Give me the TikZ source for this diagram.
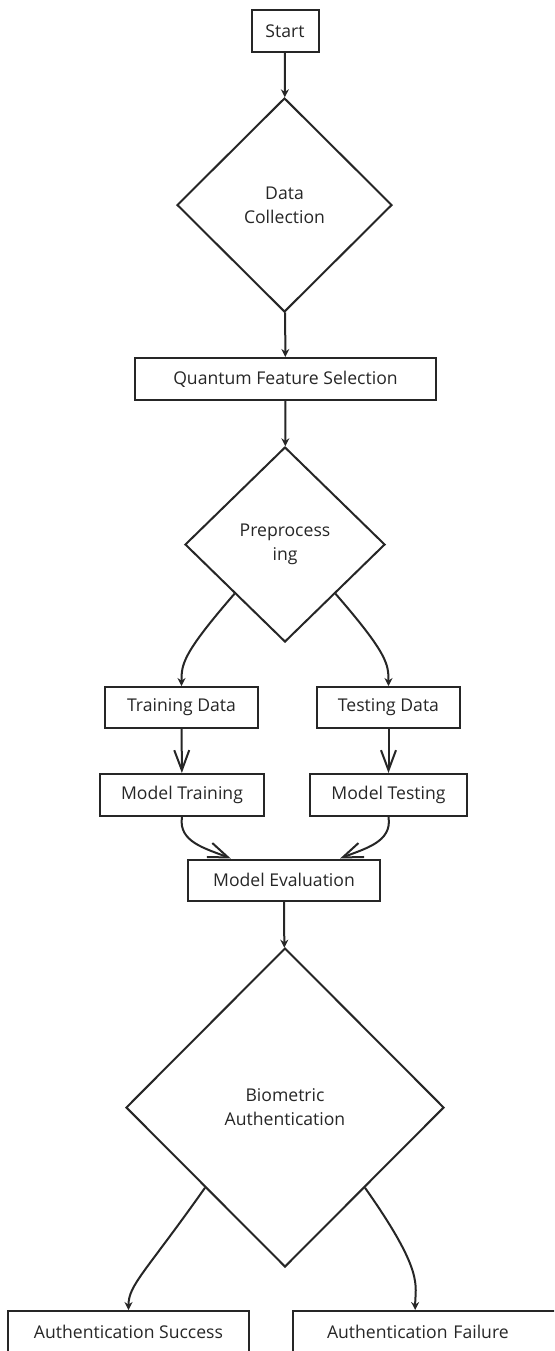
\documentclass[tikz,border=0pt]{standalone}
\usepackage{fontspec}
\setmainfont{Open Sans}
\usetikzlibrary{shapes.geometric,arrows.meta}
\begin{document}
\begin{tikzpicture}[x=0.5pt, y=-0.5pt, line width=1pt,
    font=\fontsize{8.8}{12}\selectfont,
    box/.style={draw=black!85, rectangle, inner sep=0pt, minimum height=21pt, text=black!85},
    decision/.style={draw=black!85, diamond, inner sep=0pt, align=center, text=black!85},
    arr/.style={draw=black!85, -{Stealth[length=4pt, width=4pt]}},
    openarr/.style={draw=black!85, -{Straight Barb[length=10pt, width=7.5pt]}}]
    \useasboundingbox (0,0) rectangle (554,1351);
    \clip (0,0) rectangle (554,1351);
    % main column
    \node[box, minimum width=33.5pt] (start) at (285,31) {Start};
    \node[decision, minimum width=107.5pt, minimum height=107pt] (collect) at (284.5,205) {Data\\Collection};
    \node[box, minimum width=150.5pt] (select) at (285.5,379) {Quantum Feature Selection};
    \node[decision, minimum width=100pt, minimum height=97.5pt] (prep) at (285,544.5) {Preprocess\\ing};
    % two branches
    \node[box, minimum width=76.5pt, minimum height=20.5pt] (train) at (181.5,707.5) {Training Data};
    \node[box, minimum width=71.5pt, minimum height=20.5pt] (test) at (388.5,707.5) {Testing Data};
    \node[box, minimum width=82pt] (mtrain) at (182,795) {Model Training};
    \node[box, minimum width=78.5pt] (mtest) at (388.5,795) {Model Testing};
    \node[box, minimum width=96pt, minimum height=20.5pt] (eval) at (284,880) {Model Evaluation};
    \node[decision, minimum width=159pt, minimum height=159.5pt] (bio) at (285,1107.5) {Biometric\\Authentication};
    % outcomes
    \node[box, minimum width=120.5pt] (succ) at (128.5,1332) {Authentication Success};
    \node[box, anchor=west, text width=140pt, align=left, inner xsep=17pt] (fail) at (292,1332) {Authentication Failure};
    % connectors
    \draw[arr] (start) -- (collect);
    \draw[arr] (collect) -- (select);
    \draw[arr] (select) -- (prep);
    \draw[arr] (prep.south west) .. controls +(-52,60) and +(0,-22) .. (train.north);
    \draw[arr] (prep.south east) .. controls +(52,60) and +(0,-22) .. (test.north);
    \draw[openarr] (train) -- (mtrain);
    \draw[openarr] (test) -- (mtest);
    \draw[openarr] (mtrain.south) .. controls +(-4,25) and +(-25,-10) .. (eval.158);
    \draw[openarr] (mtest.south) .. controls +(4,25) and +(25,-10) .. (eval.21);
    \draw[arr] (eval) -- (bio);
    \draw[arr] (bio.south west) .. controls +(-60,85) and +(0,-25) .. (succ.north);
    \draw[arr] (bio.south east) .. controls +(60,85) and +(0,-25) .. (fail.157.6);
\end{tikzpicture}
\end{document}
